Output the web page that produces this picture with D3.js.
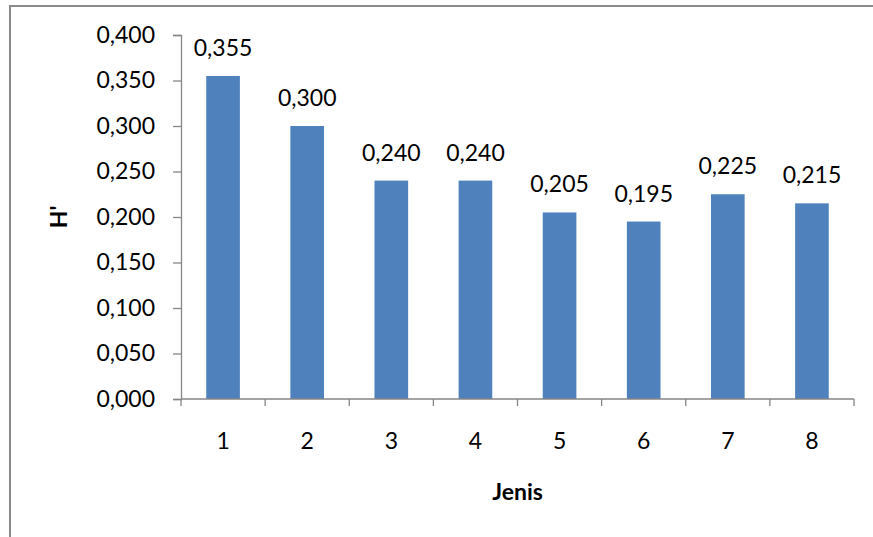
<!DOCTYPE html>
<html>
<head>
<meta charset="utf-8">
<script src="https://cdn.jsdelivr.net/npm/d3@7"></script>
<style>
  html, body { margin: 0; padding: 0; background: #ffffff; }
  svg { display: block; }
  text { font-family: Lato, "Open Sans", "Liberation Sans", sans-serif; fill: #000; }
</style>
</head>
<body>
<script>
// Diversity index H' for each species group (Jenis)
const categories = ["1", "2", "3", "4", "5", "6", "7", "8"];
const values = [0.355, 0.300, 0.240, 0.240, 0.205, 0.195, 0.225, 0.215];
const yTicks = [0, 0.05, 0.1, 0.15, 0.2, 0.25, 0.3, 0.35, 0.4];
const xTitle = "Jenis";
const yTitle = "H'";

const W = 873, H = 537;
const plot = { left: 181, right: 854, top: 35, bottom: 399 };
const fontSize = 23;

const locale = d3.formatLocale({ decimal: ",", thousands: ".", grouping: [3], currency: ["", ""] });
const fmt = locale.format(".3f");

const svg = d3.select("body").append("svg").attr("width", W).attr("height", H);

// chart frame (left and top edges visible)
svg.append("rect")
  .attr("x", 10).attr("y", 6)
  .attr("width", W + 20).attr("height", H + 20)
  .attr("fill", "none").attr("stroke", "#8a8a8a").attr("stroke-width", 2);

const x = d3.scaleBand()
  .domain(categories)
  .range([plot.left, plot.right])
  .paddingInner(0.6)
  .paddingOuter(0.3);

const y = d3.scaleLinear().domain([0, 0.4]).range([plot.bottom, plot.top]);

const axisColor = "#868686";

// y axis
const yAxis = svg.append("g")
  .attr("transform", `translate(${plot.left},0)`)
  .call(d3.axisLeft(y).tickValues(yTicks).tickFormat(fmt).tickSize(8).tickPadding(18));
yAxis.select(".domain").attr("stroke", axisColor).attr("stroke-width", 1.3);
yAxis.selectAll(".tick line").attr("stroke", axisColor).attr("stroke-width", 1.3);
yAxis.selectAll(".tick text")
  .attr("font-size", fontSize)
  .attr("font-family", "Lato, 'Open Sans', sans-serif")
  .attr("fill", "#000");

// bars
svg.append("g").selectAll("rect")
  .data(values)
  .join("rect")
  .attr("x", (d, i) => x(categories[i]))
  .attr("y", d => y(d))
  .attr("width", x.bandwidth())
  .attr("height", d => y(0) - y(d))
  .attr("fill", "#4f81bd");

// x axis: baseline with tick marks at category boundaries
const step = x.step();
const half = step * x.paddingInner() / 2;
const boundaries = categories.map(c => x(c) - half).concat([x(categories[categories.length - 1]) + x.bandwidth() + half]);
const xAxis = svg.append("g");
xAxis.append("line")
  .attr("x1", plot.left).attr("x2", boundaries[boundaries.length - 1])
  .attr("y1", y(0)).attr("y2", y(0))
  .attr("stroke", axisColor).attr("stroke-width", 1.3);
xAxis.selectAll("line.tick")
  .data(boundaries)
  .join("line")
  .attr("class", "tick")
  .attr("x1", d => d).attr("x2", d => d)
  .attr("y1", y(0)).attr("y2", y(0) + 7)
  .attr("stroke", axisColor).attr("stroke-width", 1.3);
xAxis.selectAll("text")
  .data(categories)
  .join("text")
  .attr("x", d => x(d) + x.bandwidth() / 2)
  .attr("y", 449)
  .attr("text-anchor", "middle")
  .attr("font-size", fontSize)
  .text(d => d);

// value labels above bars
svg.append("g").selectAll("text")
  .data(values)
  .join("text")
  .attr("x", (d, i) => x(categories[i]) + x.bandwidth() / 2)
  .attr("y", d => y(d) - 20)
  .attr("text-anchor", "middle")
  .attr("font-size", fontSize)
  .text(d => fmt(d));

// axis titles
svg.append("text")
  .attr("x", (plot.left + plot.right) / 2)
  .attr("y", 500)
  .attr("text-anchor", "middle")
  .attr("font-size", fontSize)
  .attr("font-weight", "bold")
  .text(xTitle);

svg.append("text")
  .attr("transform", `translate(67,${(plot.top + plot.bottom) / 2}) rotate(-90)`)
  .attr("text-anchor", "middle")
  .attr("font-size", fontSize)
  .attr("font-weight", "bold")
  .text(yTitle);
</script>
</body>
</html>
